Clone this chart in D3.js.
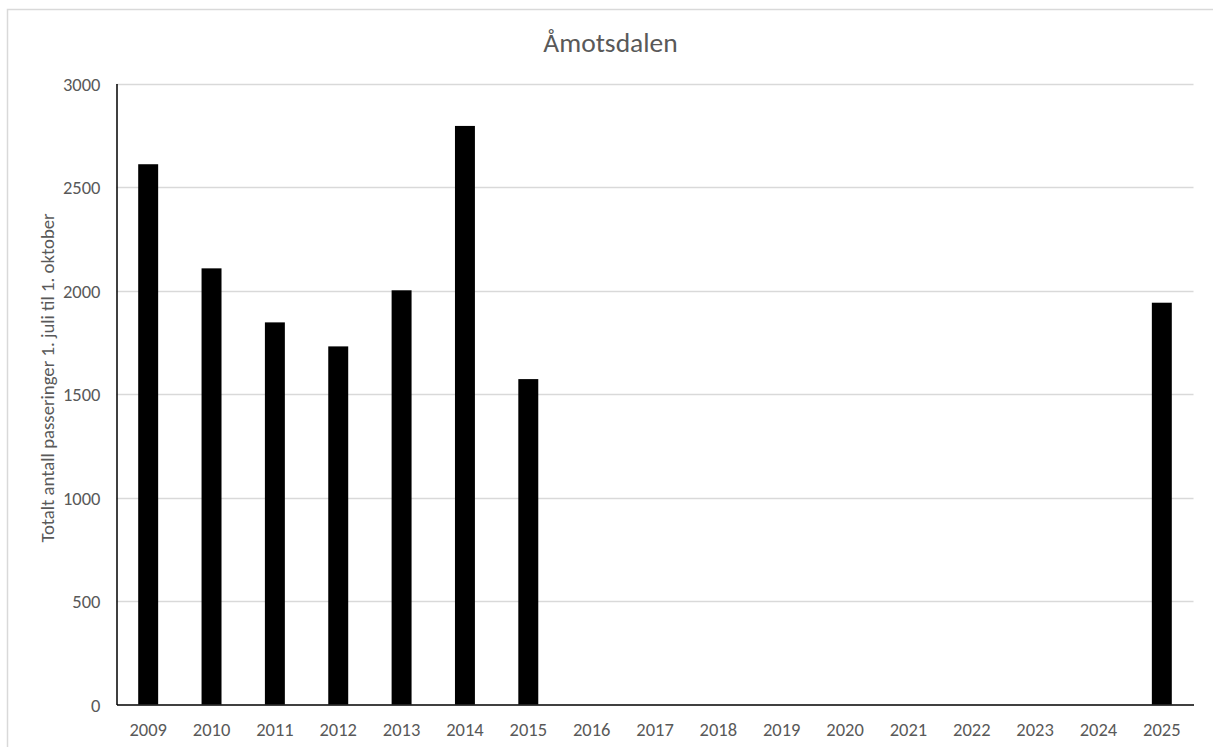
<!DOCTYPE html>
<html><head><meta charset="utf-8">
<script src="https://cdn.jsdelivr.net/npm/d3@7"></script>
<style>body{margin:0;background:#fff;} svg{display:block;font-family:Carlito,Calibri,Lato,sans-serif;}</style>
</head><body>
<svg id="c" width="1213" height="747"></svg>
<script>
const years = ["2009","2010","2011","2012","2013","2014","2015","2016","2017","2018","2019","2020","2021","2022","2023","2024","2025"];
const values = [2610,2107,1846,1730,2001,2795,1572,null,null,null,null,null,null,null,null,null,1941];
const yTicks = [0,500,1000,1500,2000,2500,3000];
const title = "Åmotsdalen";
const yLabel = "Totalt antall passeringer 1. juli til 1. oktober";

const FF = "Carlito,Calibri,Lato,sans-serif";
const svg = d3.select("#c");
const m = {left:116.5, right:1193.5, top:83.5, bottom:704.5};

svg.append("rect").attr("x",7.5).attr("y",9.5).attr("width",1240).attr("height",800)
  .attr("fill","#fff").attr("stroke","#d9d9d9").attr("stroke-width",1.5);

const x = d3.scaleBand().domain(years).range([m.left,m.right]).paddingInner(0.685).paddingOuter(0.3425);
const y = d3.scaleLinear().domain([0,3000]).range([m.bottom,m.top]);

// gridlines
svg.append("g").selectAll("line").data(yTicks.filter(d=>d>0)).join("line")
  .attr("x1",m.left).attr("x2",m.right).attr("y1",d=>Math.round(y(d))+0.5).attr("y2",d=>Math.round(y(d))+0.5)
  .attr("stroke","#d9d9d9").attr("stroke-width",1.3);

// y axis
const ya = svg.append("g").attr("transform",`translate(${m.left},0)`)
  .call(d3.axisLeft(y).tickValues(yTicks).tickFormat(d3.format("d")).tickSize(0).tickPadding(16));
ya.select(".domain").attr("stroke","#000").attr("stroke-width",1.5);
ya.selectAll("text").attr("fill","#595959").attr("font-size",18.5).attr("font-family",FF).attr("dy","0.36em");

// bars
svg.append("g").selectAll("rect").data(years.map((d,i)=>({year:d,v:values[i]})).filter(d=>d.v!=null)).join("rect")
  .attr("x",d=>x(d.year)).attr("width",x.bandwidth())
  .attr("y",d=>y(d.v)).attr("height",d=>y(0)-y(d.v)).attr("fill","#000");

// x axis
const xa = svg.append("g").attr("transform",`translate(0,${m.bottom})`)
  .call(d3.axisBottom(x).tickSize(0));
xa.select(".domain").attr("stroke","#000").attr("stroke-width",1.5);
xa.selectAll("text").attr("fill","#595959").attr("font-size",18.5).attr("font-family",FF)
  .attr("y",31.5).attr("dy",null);

// title
svg.append("text").attr("x",610.5).attr("y",52).attr("text-anchor","middle")
  .attr("fill","#595959").attr("font-size",27.5).text(title);

// y label
svg.append("text").attr("transform","translate(54,378) rotate(-90)").attr("text-anchor","middle")
  .attr("fill","#595959").attr("font-size",18.75).text(yLabel);
</script>
</body></html>
